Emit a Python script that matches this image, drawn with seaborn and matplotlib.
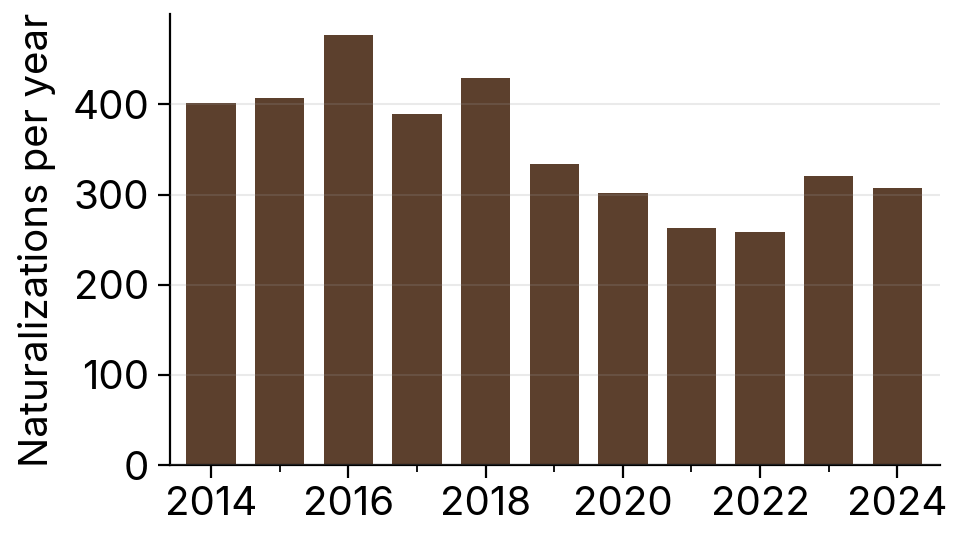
import matplotlib
matplotlib.use("Agg")
import matplotlib.pyplot as plt
import seaborn as sns
from matplotlib.ticker import MultipleLocator

# Naturalizaciones por año
years = [2014, 2015, 2016, 2017, 2018, 2019, 2020, 2021, 2022, 2023, 2024]
naturalizations = [401, 407, 477, 389, 429, 334, 302, 263, 258, 321, 307]
y_ticks = [0, 100, 200, 300, 400]

sns.set_style("white")
plt.rcParams['font.family'] = ['Inter', 'DejaVu Sans']
plt.rcParams['text.color'] = 'black'
plt.rcParams['axes.labelcolor'] = 'black'
plt.rcParams['xtick.color'] = 'black'
plt.rcParams['ytick.color'] = 'black'

fig = plt.figure(figsize=(9.62, 5.46), dpi=100)
ax = fig.add_axes([0.1767, 0.148, 0.8003, 0.826])

sns.barplot(x=years, y=naturalizations, native_scale=True, width=0.72,
            color="#5c402d", saturation=1, linewidth=0, ax=ax)

ax.set_xlim(2013.4, 2024.62)
ax.set_ylim(0, 500)
ax.set_yticks(y_ticks)
ax.xaxis.set_major_locator(MultipleLocator(2))
ax.xaxis.set_minor_locator(MultipleLocator(1))

ax.set_axisbelow(False)
ax.yaxis.grid(True, color="#999999", alpha=0.2, linewidth=1.5)
ax.xaxis.grid(False)

for side in ["top", "right"]:
    ax.spines[side].set_visible(False)
for side in ["left", "bottom"]:
    ax.spines[side].set_linewidth(1.6)
    ax.spines[side].set_color("black")

ax.tick_params(axis="both", which="major", labelsize=29, length=9, width=1.6,
               color="black", labelcolor="black", direction="out",
               left=True, bottom=True, pad=6)
ax.tick_params(axis="x", which="minor", length=5, width=1.3, color="black",
               bottom=True)
ax.set_ylabel("Naturalizations per year", fontsize=29, labelpad=12)
ax.set_xlabel("")

fig.savefig("out.png", dpi=100)
plt.close(fig)
